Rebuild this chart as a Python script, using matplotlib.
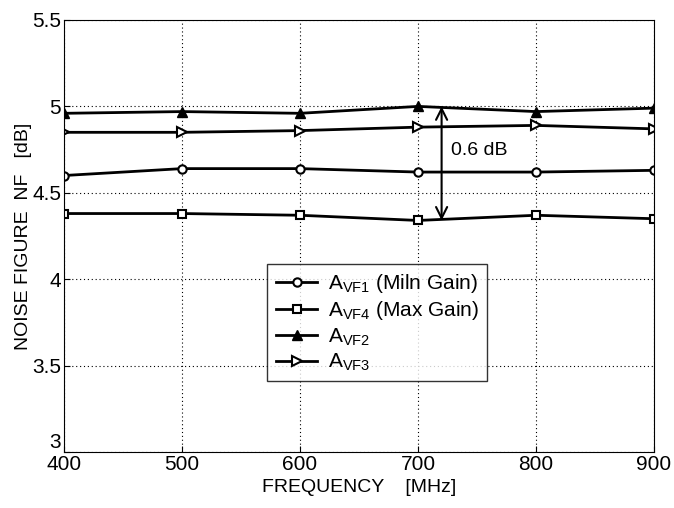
import numpy as np
import matplotlib
matplotlib.use("Agg")
import matplotlib.pyplot as plt

plt.rcParams['font.family'] = ['Liberation Sans', 'DejaVu Sans']
plt.rcParams['mathtext.fontset'] = 'custom'
plt.rcParams['mathtext.rm'] = 'Liberation Sans'
plt.rcParams['mathtext.it'] = 'Liberation Sans'

freq = [400, 500, 600, 700, 800, 900]
avf1 = [4.60, 4.64, 4.64, 4.62, 4.62, 4.63]
avf4 = [4.38, 4.38, 4.37, 4.34, 4.37, 4.35]
avf2 = [4.96, 4.97, 4.96, 5.00, 4.97, 4.99]
avf3 = [4.85, 4.85, 4.86, 4.88, 4.89, 4.87]

fig = plt.figure(figsize=(6.74, 5.08), dpi=100)
ax = fig.add_axes([64/674, 56/508, 590/674, 432/508])

ax.plot(freq, avf1, 'k-', marker='o', mfc='white', ms=6, lw=2, mew=1.5,
        label=r'$\mathrm{A}_{\mathrm{VF1}}$ (Miln Gain)')
ax.plot(freq, avf4, 'k-', marker='s', mfc='white', ms=6, lw=2, mew=1.5,
        label=r'$\mathrm{A}_{\mathrm{VF4}}$ (Max Gain)')
ax.plot(freq, avf2, 'k-', marker='^', mfc='black', ms=7, lw=2,
        label=r'$\mathrm{A}_{\mathrm{VF2}}$')
ax.plot(freq, avf3, 'k-', marker='>', mfc='white', ms=7, lw=2, mew=1.5,
        label=r'$\mathrm{A}_{\mathrm{VF3}}$')

# 0.6 dB double arrow
ax.annotate('', xy=(720, 5.0), xytext=(720, 4.34),
            arrowprops=dict(arrowstyle='<->', color='black', lw=1.5,
                            mutation_scale=20, shrinkA=0, shrinkB=0))
ax.text(728, 4.72, '0.6 dB', fontsize=14)

ax.set_xlim(400, 900)
ax.set_ylim(3, 5.5)
ax.set_xticks([400, 500, 600, 700, 800, 900])
ax.set_yticks([3, 3.5, 4, 4.5, 5, 5.5])
ax.set_yticklabels(['3', '3.5', '4', '4.5', '5', '5.5'])
ax.tick_params(labelsize=15, direction='in', length=4, pad=2)
# "3" sits just above the corner, like the original
ax.get_yticklabels()[0].set_verticalalignment('bottom')
ax.grid(True, linestyle=(0, (1, 2.5)), color='black', lw=0.8)
ax.set_xlabel('FREQUENCY    [MHz]', fontsize=14, labelpad=4)
ax.set_ylabel('NOISE FIGURE  NF   [dB]', fontsize=14, labelpad=0)

leg = ax.legend(loc='upper left', bbox_to_anchor=(0.327, 0.46), fontsize=15,
                frameon=True, fancybox=False, edgecolor='black',
                handlelength=2.0, borderpad=0.4, labelspacing=0.2,
                handletextpad=0.5)
leg.get_frame().set_linewidth(1.0)

fig.savefig('out.png', dpi=100)
